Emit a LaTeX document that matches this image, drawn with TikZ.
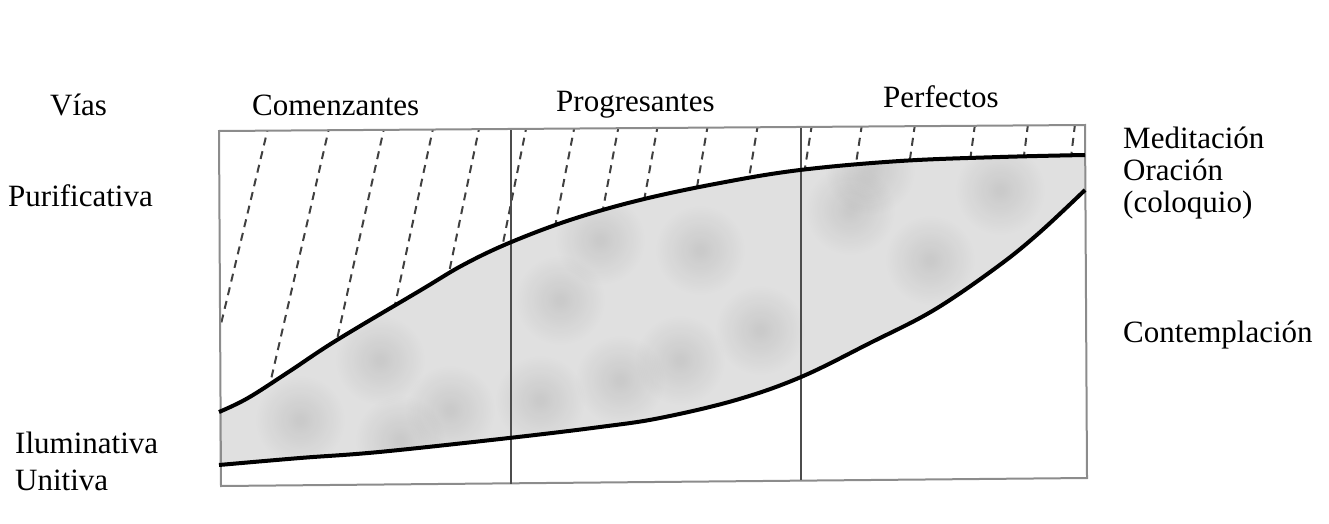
\documentclass[tikz,border=0pt]{standalone}
\usepackage{fontspec}
\setmainfont{Liberation Serif}
\usetikzlibrary{calc, fadings}
\tikzfading[name=softspot, inner color=transparent!0, outer color=transparent!100]
\tikzstyle{tagtext} = [anchor=base west, inner sep=0pt, font=\fontsize{31}{36}\selectfont]
\tikzstyle{frame}   = [draw=black!45, line width=2pt]
\tikzstyle{divider} = [draw=black!70, line width=2.5pt]
\tikzstyle{curve}   = [draw=black, line width=4pt]
\tikzstyle{hatch}   = [draw=black!75, line width=2pt, dash pattern=on 8pt off 6pt]
\tikzstyle{mist}    = [fill=black!12]
\tikzstyle{blot}    = [fill=black, opacity=0.10, path fading=softspot]
\begin{document}
\begin{tikzpicture}[x=1pt, y=-1pt]
  \useasboundingbox (0,0) rectangle (1329,524);

  % Frame corners and dividers
  \coordinate (tl)  at (219,131);
  \coordinate (tr)  at (1085,125);
  \coordinate (br)  at (1087,478);
  \coordinate (bl)  at (221,486);
  \coordinate (d1t) at (511,130);
  \coordinate (d1b) at (511,484);
  \coordinate (d2t) at (801,128);
  \coordinate (d2b) at (801,480);

  % Shaded band between the two curves
  \begin{scope}
    \clip plot[smooth, tension=0.6] coordinates {(219,412) (248,398) (290,371) (337,340) (421,290) (463,265) (509,243) (570,220) (640,200) (720,183) (800,170) (900,161) (1000,157) (1085,155)}
      -- plot[smooth, tension=0.6] coordinates {(1085,190) (1039,233) (997,267) (934,310) (870,343) (801,377) (736,400) (660,418) (600,427) (509,438) (379,452) (300,458) (219,465)}
      -- cycle;
    \fill[mist] (tl) rectangle (br);
    % mottled grey of the print
    \foreach \bx/\by in {300/420,380/360,450/410,560/300,620/380,700/250,760/330,850/210,930/260,1000/190,540/400,680/360,400/440,870/170,600/240} {
      \fill[blot] (\bx,\by) circle (45);
    }
  \end{scope}

  % Hatching above the upper curve
  \begin{scope}
    \clip (tl) -- (tr) -- plot[smooth, tension=0.6] coordinates {(1085,155) (1000,157) (900,161) (800,170) (720,183) (640,200) (570,220) (509,243) (463,265) (421,290) (337,340) (290,371) (248,398) (219,412)} -- cycle;
    \foreach \xt in {269,330,385,434,480,527,575,619,658,708,758,812,862,915,975,1028,1075} {
      \pgfmathsetmacro\k{0.24-0.12*(\xt-269)/806}
      \draw[hatch] (\xt,124) -- ++(-\k*330, 330);
    }
  \end{scope}

  % Frame, dividers, curves
  \draw[frame] (tl) -- (tr) -- (br) -- (bl) -- cycle;
  \draw[divider] (d1t) -- (d1b);
  \draw[divider] (d2t) -- (d2b);
  \draw[curve] plot[smooth, tension=0.6] coordinates {(219,412) (248,398) (290,371) (337,340) (421,290) (463,265) (509,243) (570,220) (640,200) (720,183) (800,170) (900,161) (1000,157) (1085,155)};
  \draw[curve] plot[smooth, tension=0.6] coordinates {(219,465) (300,458) (379,452) (509,438) (600,427) (660,418) (736,400) (801,377) (870,343) (934,310) (997,267) (1039,233) (1085,190)};

  % Column heads
  \node (vias)   [tagtext] at (50,115)  {Vías};
  \node (comenz) [tagtext] at (252,115) {Comenzantes};
  \node (progre) [tagtext] at (556,112) {Progresantes};
  \node (perfec) [tagtext] at (883,108) {Perfectos};

  % Left side
  \node (purif)  [tagtext] at (8,206)   {Purificativa};
  \node (ilumin) [tagtext] at (15,453)  {Iluminativa};
  \node (unitiv) [tagtext] at (15,490)  {Unitiva};

  % Right side
  \node (medit)  [tagtext] at (1123,148) {Meditación};
  \node (oracio) [tagtext] at (1123,180) {Oración};
  \node (coloq)  [tagtext] at (1123,212) {(coloquio)};
  \node (contem) [tagtext] at (1123,342) {Contemplación};

\end{tikzpicture}
\end{document}
